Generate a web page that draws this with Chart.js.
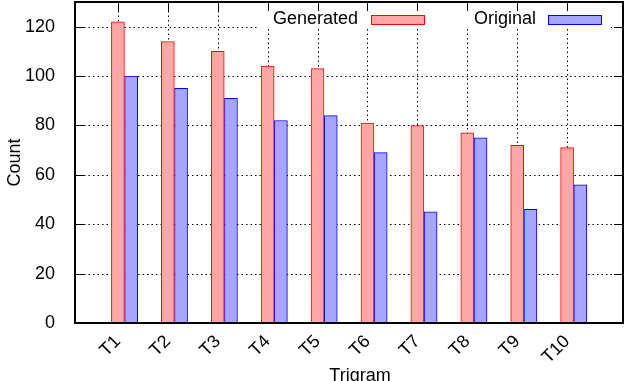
<!DOCTYPE html>
<html>
<head>
<meta charset="utf-8">
<script src="https://cdn.jsdelivr.net/npm/chart.js@4/dist/chart.umd.min.js"></script>
<style>
  html, body { margin: 0; padding: 0; background: #fff; }
  #c { display: block; }
</style>
</head>
<body>
<canvas id="c" width="626" height="381"></canvas>
<script>
// ---- data ----
const trigrams = ["T1", "T2", "T3", "T4", "T5", "T6", "T7", "T8", "T9", "T10"];
const generated = [122, 114, 110, 104, 103, 81, 80, 77, 72, 71];
const original = [100, 95, 91, 82, 84, 69, 45, 75, 46, 56];
const yTicks = [0, 20, 40, 60, 80, 100, 120];

const FONT = "'Liberation Sans', Arial, Helvetica, sans-serif";
const RED_FILL = "#ffa6a6", RED_LINE = "#ff0000";
const BLUE_FILL = "#a6a6ff", BLUE_LINE = "#0000ff";

function toPoints(vals, shift) {
  return vals.map((v, i) => ({ x: i + shift, y: v }));
}

// keep the plot box where gnuplot puts it
function noPad(s) {
  s.paddingTop = 0; s.paddingBottom = 0;
  s.paddingLeft = 0; s.paddingRight = 0;
}

// grid, ticks, key and border drawn gnuplot-like
const gnuplotLook = {
  id: "gnuplotLook",
  beforeDatasetsDraw(chart) {
    const { ctx, chartArea: a, scales: { x, y } } = chart;
    ctx.save();
    // dotted grid
    ctx.strokeStyle = "#000";
    ctx.lineWidth = 1;
    ctx.setLineDash([1.5, 3]);
    yTicks.forEach((v) => {
      if (v === 0) return;
      const py = Math.round(y.getPixelForValue(v)) + 0.5;
      ctx.beginPath(); ctx.moveTo(a.left, py); ctx.lineTo(a.right, py); ctx.stroke();
    });
    trigrams.forEach((_, i) => {
      const px = Math.round(x.getPixelForValue(i)) + 0.5;
      ctx.beginPath(); ctx.moveTo(px, a.top); ctx.lineTo(px, a.bottom); ctx.stroke();
    });
    ctx.setLineDash([]);

    // key (opaque)
    ctx.fillStyle = "#fff";
    ctx.fillRect(257, 5, 354, 24);
    ctx.font = "18px " + FONT;
    ctx.fillStyle = "#000";
    ctx.textAlign = "right";
    ctx.textBaseline = "middle";
    ctx.fillText("Generated", 358, 19);
    ctx.fillText("Original", 536, 19);
    ctx.fillStyle = RED_FILL; ctx.fillRect(371, 15, 54, 9);
    ctx.strokeStyle = RED_LINE; ctx.strokeRect(371.5, 15.5, 53, 9);
    ctx.fillStyle = BLUE_FILL; ctx.fillRect(548, 15, 54, 9);
    ctx.strokeStyle = BLUE_LINE; ctx.strokeRect(548.5, 15.5, 53, 9);

    // inward tics, mirrored
    ctx.strokeStyle = "#000";
    ctx.lineWidth = 1;
    yTicks.forEach((v) => {
      const py = Math.round(y.getPixelForValue(v)) + 0.5;
      ctx.beginPath();
      ctx.moveTo(a.left, py); ctx.lineTo(a.left + 9, py);
      ctx.moveTo(a.right, py); ctx.lineTo(a.right - 9, py);
      ctx.stroke();
    });
    trigrams.forEach((_, i) => {
      const px = Math.round(x.getPixelForValue(i)) + 0.5;
      ctx.beginPath();
      ctx.moveTo(px, a.top); ctx.lineTo(px, a.top + 9);
      ctx.moveTo(px, a.bottom); ctx.lineTo(px, a.bottom - 9);
      ctx.stroke();
    });
    ctx.restore();
  },
  afterDatasetsDraw(chart) {
    const { ctx, chartArea: a } = chart;
    ctx.save();
    ctx.strokeStyle = "#000";
    ctx.lineWidth = 2;
    ctx.strokeRect(a.left, a.top, a.right - a.left, a.bottom - a.top);
    // axis titles
    ctx.fillStyle = "#000";
    ctx.font = "18px " + FONT;
    ctx.textAlign = "center";
    ctx.textBaseline = "alphabetic";
    ctx.fillText("Trigram", 360, 381);
    ctx.translate(20, (a.top + a.bottom) / 2);
    ctx.rotate(-Math.PI / 2);
    ctx.fillText("Count", 0, 0);
    ctx.restore();
  },
};

new Chart(document.getElementById("c"), {
  type: "bar",
  data: {
    datasets: [
      {
        label: "Generated",
        data: toPoints(generated, 0),
        backgroundColor: RED_FILL,
        borderColor: RED_LINE,
        borderWidth: 1,
      },
      {
        label: "Original",
        data: toPoints(original, 0.265),
        backgroundColor: BLUE_FILL,
        borderColor: BLUE_LINE,
        borderWidth: 1,
      },
    ],
  },
  options: {
    responsive: false,
    animation: false,
    grouped: false,
    barThickness: 13,
    layout: { padding: { top: 2, right: 3, left: 0, bottom: 0 } },
    plugins: { legend: { display: false }, tooltip: { enabled: false } },
    scales: {
      x: {
        type: "linear",
        offset: false,
        min: -0.86,
        max: 10.12,
        grid: { display: false, offset: false },
        border: { display: false },
        afterBuildTicks: (s) => { s.ticks = trigrams.map((_, i) => ({ value: i })); },
        afterFit: (s) => { s.height = 58; noPad(s); },
        ticks: {
          autoSkip: false,
          minRotation: 45,
          maxRotation: 45,
          padding: 0,
          color: "#000",
          font: { family: FONT, size: 18 },
          callback: (v) => trigrams[v],
        },
      },
      y: {
        min: 0,
        max: 130,
        grid: { display: false },
        border: { display: false },
        afterBuildTicks: (s) => { s.ticks = yTicks.map((v) => ({ value: v })); },
        afterFit: (s) => { s.width = 75; noPad(s); },
        ticks: {
          padding: 12,
          color: "#000",
          font: { family: FONT, size: 18 },
        },
      },
    },
  },
  plugins: [gnuplotLook],
});
</script>
</body>
</html>
